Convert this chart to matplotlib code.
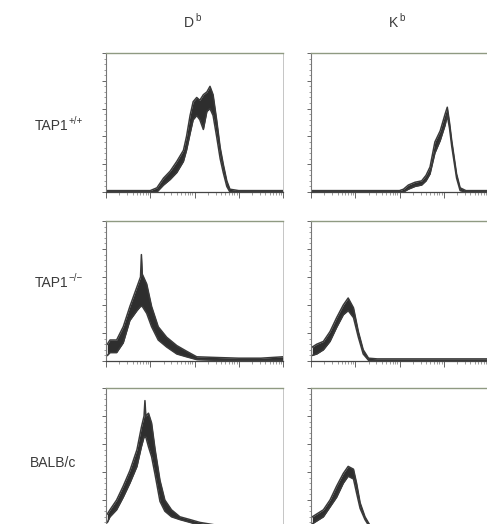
import numpy as np
import matplotlib
matplotlib.use("Agg")
import matplotlib.pyplot as plt
from matplotlib.ticker import LogLocator, NullFormatter, MultipleLocator

plt.rcParams['font.family'] = ['Liberation Sans', 'DejaVu Sans']

col_titles = ["D", "K"]
col_sups = ["b", "b"]
row_labels = ["TAP1", "TAP1", "BALB/c"]
row_sups = ["+/+", "\u2212/\u2212", ""]

# log10 fluorescence positions (decades) and upper/lower envelope of counts (fraction of panel height)
db_wt_x = [0, 0.5, 1.0, 1.15, 1.3, 1.45, 1.6, 1.75, 1.82, 1.9, 1.97, 2.05, 2.12, 2.2, 2.28, 2.35, 2.42, 2.5, 2.58, 2.65, 2.73, 2.8, 3.0, 3.5, 4.0]
db_wt_hi = [0.01, 0.01, 0.01, 0.03, 0.10, 0.15, 0.22, 0.30, 0.40, 0.55, 0.65, 0.68, 0.66, 0.70, 0.72, 0.76, 0.70, 0.52, 0.32, 0.20, 0.08, 0.02, 0.01, 0.01, 0.01]
db_wt_lo = [0, 0, 0, 0, 0.05, 0.09, 0.14, 0.22, 0.30, 0.42, 0.52, 0.55, 0.52, 0.45, 0.58, 0.60, 0.55, 0.40, 0.24, 0.14, 0.04, 0, 0, 0, 0]

kb_wt_x = [0, 1, 2.0, 2.09, 2.2, 2.35, 2.5, 2.6, 2.69, 2.8, 2.92, 3.03, 3.08, 3.13, 3.18, 3.29, 3.37, 3.5, 4.0]
kb_wt_hi = [0.01, 0.01, 0.01, 0.02, 0.05, 0.07, 0.08, 0.12, 0.18, 0.36, 0.44, 0.56, 0.61, 0.50, 0.37, 0.13, 0.03, 0.01, 0.01]
kb_wt_lo = [0, 0, 0, 0, 0.02, 0.04, 0.05, 0.08, 0.13, 0.28, 0.37, 0.48, 0.55, 0.46, 0.33, 0.10, 0.01, 0, 0]

db_ko_x = [0.03, 0.09, 0.24, 0.39, 0.54, 0.70, 0.78, 0.80, 0.82, 0.92, 1.03, 1.18, 1.37, 1.60, 1.82, 2.05, 2.5, 3.0, 3.5, 4.0]
db_ko_hi = [0.12, 0.15, 0.15, 0.245, 0.39, 0.53, 0.60, 0.76, 0.62, 0.55, 0.39, 0.245, 0.17, 0.11, 0.07, 0.03, 0.025, 0.02, 0.02, 0.03]
db_ko_lo = [0.04, 0.06, 0.06, 0.13, 0.29, 0.36, 0.39, 0.39, 0.39, 0.34, 0.245, 0.15, 0.10, 0.05, 0.03, 0.01, 0.005, 0.005, 0.005, 0.005]

kb_ko_x = [0.03, 0.13, 0.28, 0.43, 0.58, 0.73, 0.84, 0.96, 1.07, 1.18, 1.30, 1.5, 2.0, 3.0, 4.0]
kb_ko_hi = [0.10, 0.12, 0.14, 0.21, 0.31, 0.40, 0.45, 0.38, 0.21, 0.08, 0.02, 0.015, 0.015, 0.015, 0.015]
kb_ko_lo = [0.04, 0.05, 0.08, 0.14, 0.24, 0.33, 0.36, 0.31, 0.17, 0.05, 0.005, 0, 0, 0, 0]

db_balb_x = [0.03, 0.09, 0.24, 0.39, 0.54, 0.70, 0.80, 0.86, 0.88, 0.90, 0.96, 1.03, 1.11, 1.22, 1.33, 1.48, 1.67, 1.90, 2.12, 2.5, 3.0, 4.0]
db_balb_hi = [0.10, 0.13, 0.20, 0.30, 0.41, 0.56, 0.72, 0.80, 0.91, 0.80, 0.82, 0.75, 0.56, 0.34, 0.20, 0.13, 0.08, 0.06, 0.04, 0.02, 0.015, 0.015]
db_balb_lo = [0.04, 0.08, 0.13, 0.22, 0.32, 0.44, 0.58, 0.65, 0.65, 0.65, 0.58, 0.51, 0.38, 0.19, 0.12, 0.08, 0.06, 0.04, 0.02, 0.005, 0, 0]

kb_balb_x = [0.03, 0.13, 0.28, 0.43, 0.58, 0.73, 0.84, 0.96, 1.03, 1.11, 1.22, 1.33, 1.5, 2.0, 4.0]
kb_balb_hi = [0.08, 0.10, 0.13, 0.20, 0.30, 0.39, 0.44, 0.42, 0.32, 0.18, 0.08, 0.02, 0.01, 0.01, 0.01]
kb_balb_lo = [0.03, 0.05, 0.08, 0.15, 0.22, 0.32, 0.37, 0.35, 0.25, 0.14, 0.06, 0.005, 0, 0, 0]

panels = [
    [(db_wt_x, db_wt_lo, db_wt_hi), (kb_wt_x, kb_wt_lo, kb_wt_hi)],
    [(db_ko_x, db_ko_lo, db_ko_hi), (kb_ko_x, kb_ko_lo, kb_ko_hi)],
    [(db_balb_x, db_balb_lo, db_balb_hi), (kb_balb_x, kb_balb_lo, kb_balb_hi)],
]

W, H = 487, 524
fig = plt.figure(figsize=(W / 100, H / 100), dpi=100)
fig.patch.set_facecolor('white')

col_px = [(106, 177), (311, 177)]
row_px = [(53, 192), (221, 361), (388, 528)]

for r, (top, bot) in enumerate(row_px):
    for c, (left, width) in enumerate(col_px):
        ax = fig.add_axes([left / W, 1 - bot / H, width / W, (bot - top) / H])
        x, lo, hi = panels[r][c]
        xv = 10 ** np.asarray(x, dtype=float)
        ax.fill_between(xv, lo, hi, color='#2e2e2e', lw=0)
        ax.plot(xv, hi, color='#3a3a3a', lw=1.1)
        ax.plot(xv, lo, color='#3a3a3a', lw=1.1)
        ax.set_xscale('log')
        ax.set_xlim(1, 1e4)
        ax.set_ylim(0, 1)
        ax.xaxis.set_major_locator(LogLocator(base=10, numticks=10))
        ax.xaxis.set_minor_locator(LogLocator(base=10, subs=np.arange(2, 10), numticks=20))
        ax.xaxis.set_major_formatter(NullFormatter())
        ax.xaxis.set_minor_formatter(NullFormatter())
        ax.yaxis.set_major_locator(MultipleLocator(0.2))
        ax.yaxis.set_minor_locator(MultipleLocator(0.04))
        ax.yaxis.set_major_formatter(NullFormatter())
        ax.tick_params(axis='x', which='major', direction='out', length=4, width=0.7, color='#666666')
        ax.tick_params(axis='x', which='minor', direction='out', length=2, width=0.5, color='#777777')
        ax.tick_params(axis='y', which='major', direction='out', length=3, width=0.7, color='#666666')
        ax.tick_params(axis='y', which='minor', direction='out', length=1.5, width=0.5, color='#777777')
        ax.spines['top'].set_color('#8f9a82')
        ax.spines['top'].set_linewidth(1.0)
        ax.spines['left'].set_color('#777777')
        ax.spines['left'].set_linewidth(0.8)
        ax.spines['bottom'].set_color('#444444')
        ax.spines['bottom'].set_linewidth(0.9)
        ax.spines['right'].set_color('#bbbbbb')
        ax.spines['right'].set_linewidth(0.6)

txt_color = '#3a3a3a'
for title, sup, xc in zip(col_titles, col_sups, [194, 398]):
    fig.text(xc / W, 1 - 23 / H, title, ha='right', va='center', fontsize=10, color=txt_color)
    fig.text((xc + 1) / W, 1 - 18 / H, sup, ha='left', va='center', fontsize=7, color=txt_color)

label_y = [126, 283, 463]
label_right = [68, 68, 76]
for lab, sup, y, xr in zip(row_labels, row_sups, label_y, label_right):
    fig.text(xr / W, 1 - y / H, lab, ha='right', va='center', fontsize=10, color=txt_color)
    if sup:
        fig.text((xr + 0.5) / W, 1 - (y - 5) / H, sup, ha='left', va='center', fontsize=7, color=txt_color)

fig.savefig('out.png', dpi=100, facecolor='white')
